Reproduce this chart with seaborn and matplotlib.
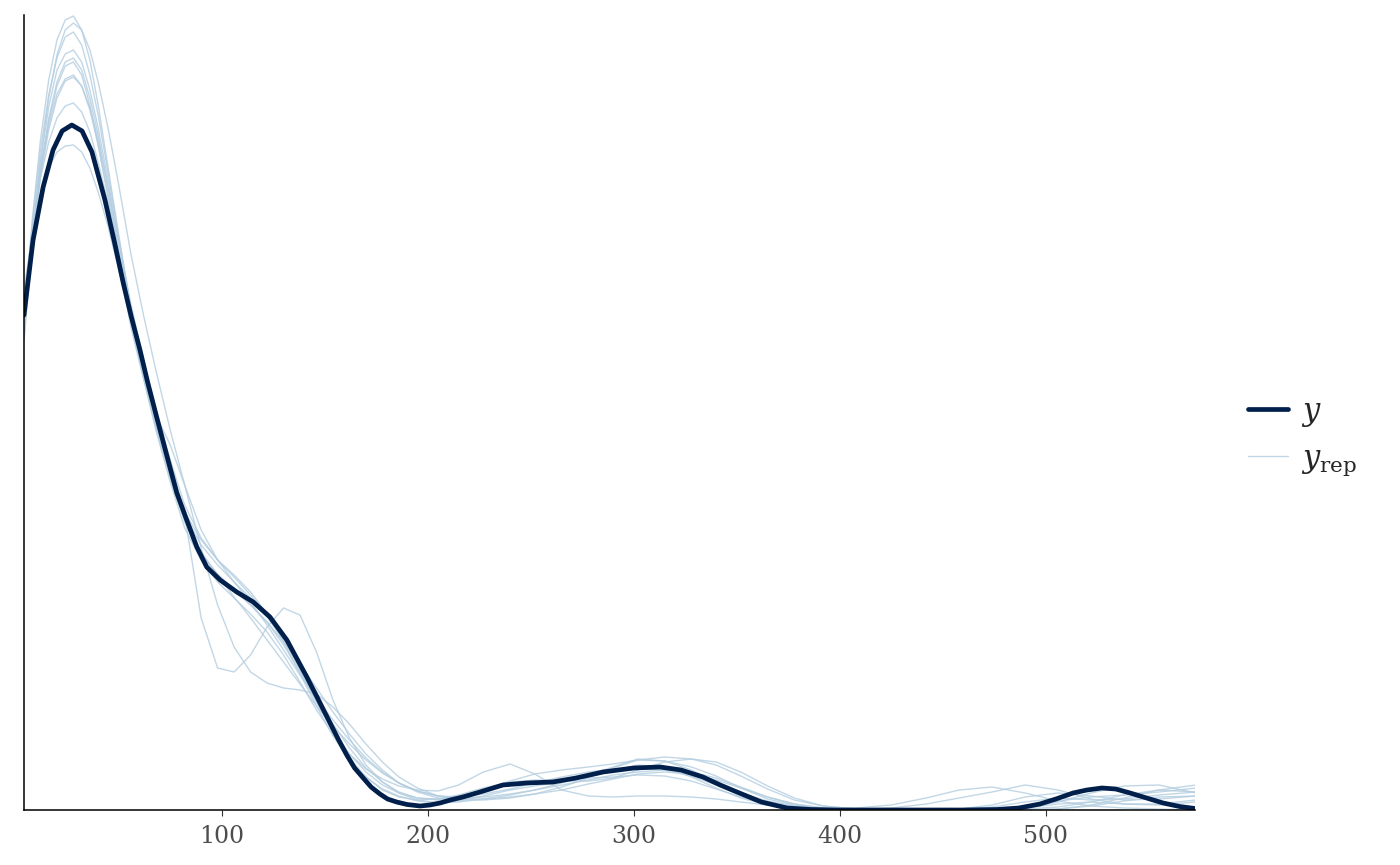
import numpy as np
import pandas as pd
import matplotlib
matplotlib.use('Agg')
import matplotlib.pyplot as plt
from matplotlib.lines import Line2D
import seaborn as sns

Y_X = [4.0, 8.4, 13.3, 18.1, 22.5, 27.2, 32.2, 37.0, 43.3, 48, 52.2, 56, 60.3,
       64, 68.4, 73.9, 78.2, 83.0, 87.9, 92.7, 99.2, 107.3, 115.3, 123.4, 131.6,
       141.3, 146.5, 152.6, 156.5, 160.7, 164.5, 168.7, 172.5, 176.8, 180.5,
       184.9, 190, 196.3, 201, 206, 211, 217.1, 225.4, 236.5, 248, 260.8, 272,
       285.1, 300, 312.8, 323, 333.6, 342, 350.1, 362, 374.4, 386, 398.7, 430,
       460, 476.4, 487, 497.2, 505, 513.3, 520, 527.3, 534, 541, 549, 557, 565,
       572.5]
Y_DENS = [495, 570, 623, 660, 679, 685, 679, 658, 610, 567, 527, 494, 460,
          428, 393, 350, 317, 290, 263, 243, 230, 218, 208, 193, 170,
          133, 112, 87, 71, 55, 42, 32, 23, 16, 11,
          8, 5.5, 4, 5, 7, 10, 13, 18, 25, 27, 28, 32,
          38, 42, 43, 40, 33, 25, 18, 8, 2, 0.5, 0, 0,
          0, 0.5, 2, 6, 11, 17, 20, 22, 21, 17, 12, 7, 3.5,
          1.5]

# replicated density curves on a common grid
REP_X = [4, 8, 12, 16, 20, 24, 28, 32, 36, 40, 45, 50, 56, 62, 68, 75, 82, 90,
         98, 106, 114, 122, 130, 138, 146, 154, 162, 170, 178, 186, 195, 205,
         215, 227, 240, 252, 265, 278, 290, 302, 315, 328, 340, 352, 365, 378,
         392, 408, 425, 442, 458, 474, 490, 506, 522, 538, 555, 573]
REP_1 = [490, 590, 670, 730, 770, 790, 794, 780, 750, 705, 640, 575, 500, 440,
         390, 335, 290, 256, 235, 220, 205, 188, 165, 138, 108, 80, 56, 38, 25,
         17, 12, 11, 14, 20, 25, 29, 31, 32, 33, 35, 34, 29, 21, 13, 6, 2, 1, 0,
         0, 0, 1, 5, 13, 17, 14, 10, 11, 14]
REP_2 = [470, 570, 650, 712, 755, 780, 787, 780, 760, 728, 680, 625, 555, 495,
         440, 380, 325, 280, 250, 228, 208, 185, 160, 135, 112, 90, 70, 52, 38,
         27, 19, 14, 13, 16, 21, 27, 33, 38, 41, 42, 40, 34, 25, 16, 8, 3, 1, 0,
         0, 0, 0, 1, 4, 9, 13, 15, 18, 22]
REP_3 = [490, 585, 660, 715, 752, 773, 778, 765, 735, 695, 635, 572, 500, 440,
         388, 338, 295, 265, 245, 228, 212, 193, 170, 143, 114, 86, 62, 42, 28,
         18, 12, 10, 13, 20, 29, 36, 40, 43, 46, 50, 49, 43, 34, 22, 11, 5, 1, 0,
         0, 0, 0, 0, 2, 6, 8, 6, 5, 8]
REP_4 = [480, 570, 640, 692, 728, 748, 752, 740, 712, 675, 620, 560, 490, 432,
         380, 328, 282, 250, 228, 212, 196, 178, 155, 128, 100, 76, 56, 41, 31,
         24, 20, 19, 25, 38, 46, 36, 20, 14, 13, 14, 14, 13, 11, 8, 5, 2, 1, 2,
         5, 12, 20, 23, 17, 9, 4, 2, 1, 0]
REP_5 = [470, 565, 635, 688, 724, 744, 748, 735, 705, 665, 610, 550, 482, 432,
         395, 365, 325, 262, 205, 163, 138, 127, 122, 120, 116, 103, 86, 66, 48,
         33, 22, 14, 11, 11, 13, 16, 20, 26, 31, 36, 38, 36, 30, 22, 13, 6, 2, 1,
         0, 0, 0, 0, 0, 1, 5, 12, 20, 25]
REP_6 = [500, 580, 640, 685, 716, 731, 735, 724, 700, 665, 614, 558, 492, 435,
         385, 338, 298, 270, 250, 233, 215, 195, 170, 140, 108, 78, 52, 33, 20,
         13, 10, 11, 15, 22, 28, 30, 29, 29, 32, 40, 48, 51, 48, 38, 24, 12, 4, 1,
         0, 0, 0, 0, 1, 3, 8, 15, 20, 18]
REP_7 = [480, 568, 633, 680, 712, 729, 733, 724, 702, 670, 622, 568, 505, 450,
         400, 350, 305, 272, 250, 235, 218, 196, 168, 136, 104, 74, 50, 33, 21,
         14, 9, 7, 8, 11, 15, 20, 27, 35, 43, 51, 49, 40, 28, 17, 9, 4, 1, 1,
         2, 6, 12, 18, 25, 20, 11, 6, 6, 10]
REP_8 = [510, 580, 632, 668, 692, 704, 707, 698, 678, 648, 605, 556, 494, 440,
         392, 350, 295, 192, 142, 138, 155, 183, 202, 195, 158, 110, 72, 45, 28,
         17, 10, 7, 9, 14, 20, 24, 28, 33, 39, 45, 43, 33, 22, 12, 5, 2, 0, 0,
         0, 0, 1, 3, 8, 12, 10, 11, 15, 18]
REP_9 = [520, 575, 615, 642, 658, 664, 665, 658, 642, 618, 582, 540, 485, 432,
         383, 332, 290, 258, 235, 213, 192, 170, 148, 126, 104, 84, 66, 50, 37,
         27, 19, 14, 12, 13, 16, 20, 25, 30, 35, 38, 40, 38, 32, 23, 13, 6, 2, 0,
         0, 0, 0, 0, 0, 1, 4, 9, 13, 14]
REP_10 = [475, 572, 648, 703, 740, 756, 760, 748, 720, 682, 628, 568, 498, 438,
          385, 332, 288, 256, 236, 220, 205, 188, 168, 146, 122, 98, 76, 56, 40,
          27, 18, 12, 10, 10, 12, 16, 23, 32, 42, 50, 53, 51, 45, 34, 21, 10, 4,
          1, 0, 0, 0, 0, 2, 8, 17, 24, 25, 17]
REPS = [REP_1, REP_2, REP_3, REP_4, REP_5, REP_6, REP_7, REP_8, REP_9, REP_10]

DARK = '#011f4b'
LIGHT = '#b3cde0'
XTICKS = [100, 200, 300, 400, 500]


def main():
    rep_df = pd.concat(
        [pd.DataFrame({'x': REP_X, 'dens': r, 'draw': i}) for i, r in enumerate(REPS)],
        ignore_index=True)
    y_df = pd.DataFrame({'x': Y_X, 'dens': Y_DENS})

    sns.set_theme(style='white')
    plt.rcParams['font.family'] = ['DejaVu Serif']
    plt.rcParams['mathtext.fontset'] = 'dejavuserif'

    fig = plt.figure(figsize=(14, 8.65), dpi=100)
    ax = fig.add_axes([24 / 1400, 55 / 865, 1171 / 1400, 795 / 865])

    sns.lineplot(data=rep_df, x='x', y='dens', units='draw', estimator=None,
                 color=LIGHT, alpha=0.8, linewidth=1.0, sort=False, ax=ax)
    sns.lineplot(data=y_df, x='x', y='dens', color=DARK, linewidth=3.4,
                 sort=False, ax=ax)

    ax.set_xlim(4.0, 572.5)
    ax.set_ylim(0, 795)
    ax.set_xlabel('')
    ax.set_ylabel('')
    ax.set_yticks([])
    ax.set_xticks(XTICKS)
    ax.tick_params(axis='x', bottom=True, length=4, width=0.8, color='#333333',
                   labelsize=17, labelcolor='#4d4d4d', pad=7)
    for side in ['top', 'right']:
        ax.spines[side].set_visible(False)
    for side in ['left', 'bottom']:
        ax.spines[side].set_color('black')
        ax.spines[side].set_linewidth(1.1)

    handles = [Line2D([], [], color=DARK, linewidth=3.4, solid_capstyle='round'),
               Line2D([], [], color=LIGHT, linewidth=1.0, alpha=0.8)]
    fig.legend(handles, ['$y$', r'$y_{\mathrm{rep}}$'], loc='center left',
               bbox_to_anchor=(1248 / 1400, 0.495), frameon=False, fontsize=22,
               borderpad=0, borderaxespad=0, handlelength=1.3,
               handletextpad=0.45, labelspacing=0.45)

    fig.savefig('out.png', dpi=100, facecolor='white')
    plt.close(fig)


if __name__ == '__main__':
    main()
